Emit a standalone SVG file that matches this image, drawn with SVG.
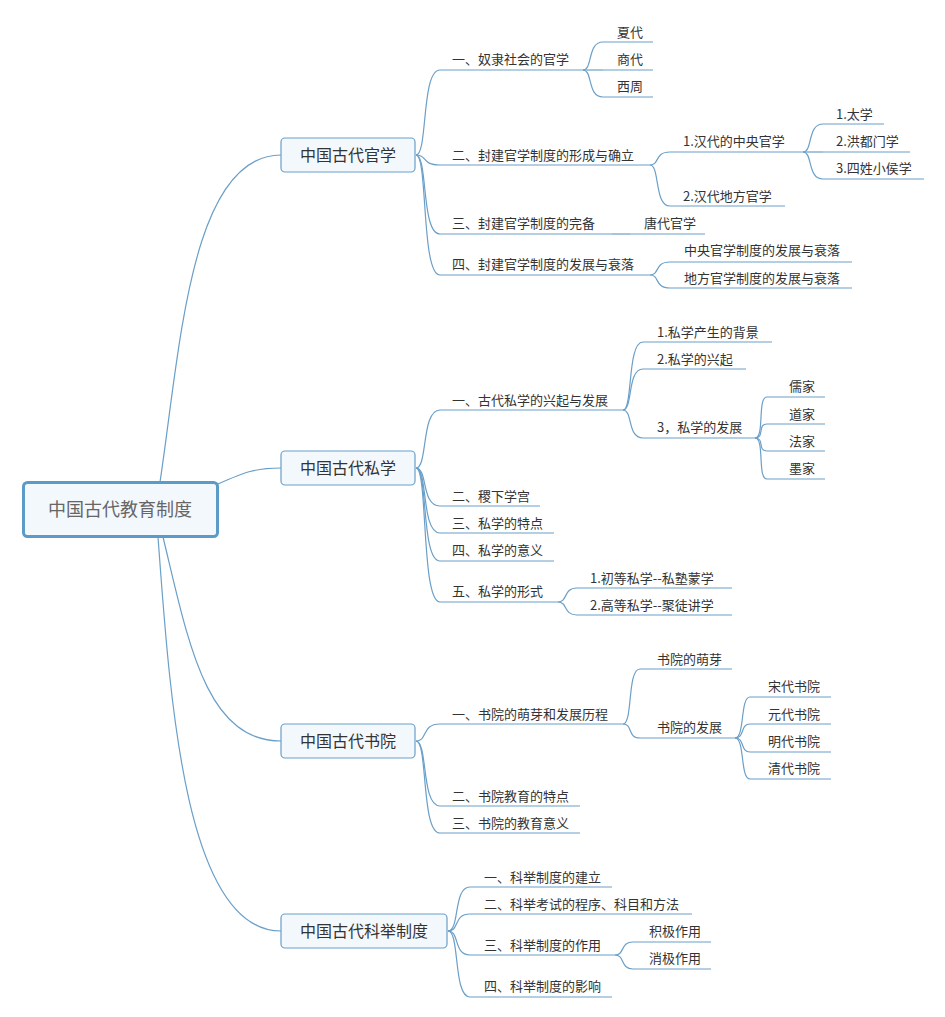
<svg xmlns="http://www.w3.org/2000/svg" width="945" height="1017" viewBox="0 0 945 1017">
<style>
.c{fill:none;stroke:#6a9fc8;stroke-width:1.2}
.u{fill:none;stroke:#6a9fc8;stroke-width:1.2}
.t{font-family:"Noto Sans CJK SC","Noto Sans",sans-serif;font-size:13px;fill:#333}
.b{fill:#f3f8fd;stroke:#6a9fc8;stroke-width:1.2}
.bt{font-family:"Noto Sans CJK SC","Noto Sans",sans-serif;font-size:16px;fill:#333;text-anchor:middle}
.r{fill:#f3f8fd;stroke:#5b9bc8;stroke-width:3}
.rt{font-family:"Noto Sans CJK SC","Noto Sans",sans-serif;font-size:18px;fill:#666;text-anchor:middle}
</style>
<rect width="945" height="1017" fill="#fff"/>
<g id="connectors">
<path class="c" d="M160,482 C180,350 190,155 281,155"/>
<path class="c" d="M218,484 C245,472 255,468 281,468"/>
<path class="c" d="M163,537 C188,640 205,741 281,741"/>
<path class="c" d="M158,537 C170,700 185,931 281,931"/>
<path class="c" d="M416,155 C428,155 421,70 440,70"/>
<path class="c" d="M416,155 C428,155 421,165 440,165"/>
<path class="c" d="M416,155 C428,155 421,234 440,234"/>
<path class="c" d="M416,155 C428,155 421,275 440,275"/>
<path class="c" d="M583,70 C593,70 587,42 603,42"/>
<path class="c" d="M583,70 L603,70"/>
<path class="c" d="M583,70 C593,70 587,97 603,97"/>
<path class="c" d="M650,165 C660,165 654,152 670,152"/>
<path class="c" d="M650,165 C660,165 654,206 670,206"/>
<path class="c" d="M803,152 C813,152 807,124 823,124"/>
<path class="c" d="M803,152 L823,152"/>
<path class="c" d="M803,152 C813,152 807,179 823,179"/>
<path class="c" d="M612,234 L630,234"/>
<path class="c" d="M650,275 C660,275 654,262 670,262"/>
<path class="c" d="M650,275 C660,275 654,288 670,288"/>
<path class="c" d="M416,468 C428,468 421,410 440,410"/>
<path class="c" d="M416,468 C428,468 421,506 440,506"/>
<path class="c" d="M416,468 C428,468 421,533 440,533"/>
<path class="c" d="M416,468 C428,468 421,561 440,561"/>
<path class="c" d="M416,468 C428,468 421,602 440,602"/>
<path class="c" d="M623,410 C633,410 627,342 643,342"/>
<path class="c" d="M623,410 C633,410 627,369 643,369"/>
<path class="c" d="M623,410 C633,410 627,438 643,438"/>
<path class="c" d="M755,438 C765,438 757,397 767,397"/>
<path class="c" d="M755,438 C765,438 757,424 767,424"/>
<path class="c" d="M755,438 C765,438 757,451 767,451"/>
<path class="c" d="M755,438 C765,438 757,479 767,479"/>
<path class="c" d="M558,602 C568,602 563,588 577,588"/>
<path class="c" d="M558,602 C568,602 563,615 577,615"/>
<path class="c" d="M416,741 C428,741 421,724 440,724"/>
<path class="c" d="M416,741 C428,741 421,806 440,806"/>
<path class="c" d="M416,741 C428,741 421,833 440,833"/>
<path class="c" d="M623,724 C633,724 627,669 640,669"/>
<path class="c" d="M623,724 C633,724 627,738 640,738"/>
<path class="c" d="M735,738 C745,738 740,697 750,697"/>
<path class="c" d="M735,738 C745,738 740,724 750,724"/>
<path class="c" d="M735,738 C745,738 740,752 750,752"/>
<path class="c" d="M735,738 C745,738 740,779 750,779"/>
<path class="c" d="M448,931 C460,931 453,887 470,887"/>
<path class="c" d="M448,931 C460,931 453,914 470,914"/>
<path class="c" d="M448,931 C460,931 453,955 470,955"/>
<path class="c" d="M448,931 C460,931 453,997 470,997"/>
<path class="c" d="M615,955 C625,955 620,942 633,942"/>
<path class="c" d="M615,955 C625,955 620,969 633,969"/>
</g>
<g id="root"><rect class="r" x="23.5" y="482.5" width="194" height="54" rx="4"/><text class="rt" x="120" y="516">中国古代教育制度</text></g>
<g id="guanxue"><rect class="b" x="281" y="138" width="134" height="34" rx="4"/><text class="bt" x="348" y="161">中国古代官学</text></g>
<g id="sixue"><rect class="b" x="281" y="451" width="134" height="34" rx="4"/><text class="bt" x="348" y="474">中国古代私学</text></g>
<g id="shuyuan"><rect class="b" x="281" y="724" width="134" height="34" rx="4"/><text class="bt" x="348" y="747">中国古代书院</text></g>
<g id="keju"><rect class="b" x="281" y="914" width="166" height="34" rx="4"/><text class="bt" x="364" y="937">中国古代科举制度</text></g>

<g id="g1"><text class="t" x="452" y="64">一、奴隶社会的官学</text><path class="u" d="M440,70H583"/></g>
<g id="g1a"><text class="t" x="617" y="37">夏代</text><path class="u" d="M603,42H653"/></g>
<g id="g1b"><text class="t" x="617" y="64">商代</text><path class="u" d="M603,70H653"/></g>
<g id="g1c"><text class="t" x="617" y="91">西周</text><path class="u" d="M603,97H653"/></g>
<g id="g2"><text class="t" x="452" y="160">二、封建官学制度的形成与确立</text><path class="u" d="M440,165H650"/></g>
<g id="g2a"><text class="t" x="683" y="146">1.汉代的中央官学</text><path class="u" d="M670,152H803"/></g>
<g id="g2a1"><text class="t" x="836" y="119">1.太学</text><path class="u" d="M823,124H884"/></g>
<g id="g2a2"><text class="t" x="836" y="146">2.洪都门学</text><path class="u" d="M823,152H910"/></g>
<g id="g2a3"><text class="t" x="836" y="173">3.四姓小侯学</text><path class="u" d="M823,179H924"/></g>
<g id="g2b"><text class="t" x="683" y="201">2.汉代地方官学</text><path class="u" d="M670,206H785"/></g>
<g id="g3"><text class="t" x="452" y="228">三、封建官学制度的完备</text><path class="u" d="M440,234H612"/></g>
<g id="g3a"><text class="t" x="644" y="228">唐代官学</text><path class="u" d="M630,234H705"/></g>
<g id="g4"><text class="t" x="452" y="269">四、封建官学制度的发展与衰落</text><path class="u" d="M440,275H650"/></g>
<g id="g4a"><text class="t" x="684" y="255">中央官学制度的发展与衰落</text><path class="u" d="M670,262H852"/></g>
<g id="g4b"><text class="t" x="684" y="283">地方官学制度的发展与衰落</text><path class="u" d="M670,288H852"/></g>

<g id="s1"><text class="t" x="452" y="405">一、古代私学的兴起与发展</text><path class="u" d="M440,410H623"/></g>
<g id="s1a"><text class="t" x="657" y="337">1.私学产生的背景</text><path class="u" d="M643,342H772"/></g>
<g id="s1b"><text class="t" x="657" y="364">2.私学的兴起</text><path class="u" d="M643,369H746"/></g>
<g id="s1c"><text class="t" x="657" y="432">3，私学的发展</text><path class="u" d="M643,438H755"/></g>
<g id="s1c1"><text class="t" x="789" y="391">儒家</text><path class="u" d="M767,397H825"/></g>
<g id="s1c2"><text class="t" x="789" y="419">道家</text><path class="u" d="M767,424H825"/></g>
<g id="s1c3"><text class="t" x="789" y="446">法家</text><path class="u" d="M767,451H825"/></g>
<g id="s1c4"><text class="t" x="789" y="473">墨家</text><path class="u" d="M767,479H825"/></g>
<g id="s2"><text class="t" x="452" y="501">二、稷下学宫</text><path class="u" d="M440,506H540"/></g>
<g id="s3"><text class="t" x="452" y="528">三、私学的特点</text><path class="u" d="M440,533H554"/></g>
<g id="s4"><text class="t" x="452" y="555">四、私学的意义</text><path class="u" d="M440,561H554"/></g>
<g id="s5"><text class="t" x="452" y="596">五、私学的形式</text><path class="u" d="M440,602H558"/></g>
<g id="s5a"><text class="t" x="590" y="583">1.初等私学--私塾蒙学</text><path class="u" d="M577,588H732"/></g>
<g id="s5b"><text class="t" x="590" y="610">2.高等私学--聚徒讲学</text><path class="u" d="M577,615H732"/></g>

<g id="y1"><text class="t" x="452" y="719">一、书院的萌芽和发展历程</text><path class="u" d="M440,724H623"/></g>
<g id="y1a"><text class="t" x="657" y="664">书院的萌芽</text><path class="u" d="M640,669H732"/></g>
<g id="y1b"><text class="t" x="657" y="732">书院的发展</text><path class="u" d="M640,738H735"/></g>
<g id="y1b1"><text class="t" x="768" y="691">宋代书院</text><path class="u" d="M750,697H831"/></g>
<g id="y1b2"><text class="t" x="768" y="719">元代书院</text><path class="u" d="M750,724H831"/></g>
<g id="y1b3"><text class="t" x="768" y="746">明代书院</text><path class="u" d="M750,752H831"/></g>
<g id="y1b4"><text class="t" x="768" y="773">清代书院</text><path class="u" d="M750,779H831"/></g>
<g id="y2"><text class="t" x="452" y="801">二、书院教育的特点</text><path class="u" d="M440,806H580"/></g>
<g id="y3"><text class="t" x="452" y="828">三、书院的教育意义</text><path class="u" d="M440,833H580"/></g>

<g id="k1"><text class="t" x="484" y="882">一、科举制度的建立</text><path class="u" d="M470,887H612"/></g>
<g id="k2"><text class="t" x="484" y="909">二、科举考试的程序、科目和方法</text><path class="u" d="M470,914H692"/></g>
<g id="k3"><text class="t" x="484" y="950">三、科举制度的作用</text><path class="u" d="M470,955H615"/></g>
<g id="k3a"><text class="t" x="649" y="936">积极作用</text><path class="u" d="M633,942H711"/></g>
<g id="k3b"><text class="t" x="649" y="963">消极作用</text><path class="u" d="M633,969H711"/></g>
<g id="k4"><text class="t" x="484" y="991">四、科举制度的影响</text><path class="u" d="M470,997H612"/></g>
</svg>
